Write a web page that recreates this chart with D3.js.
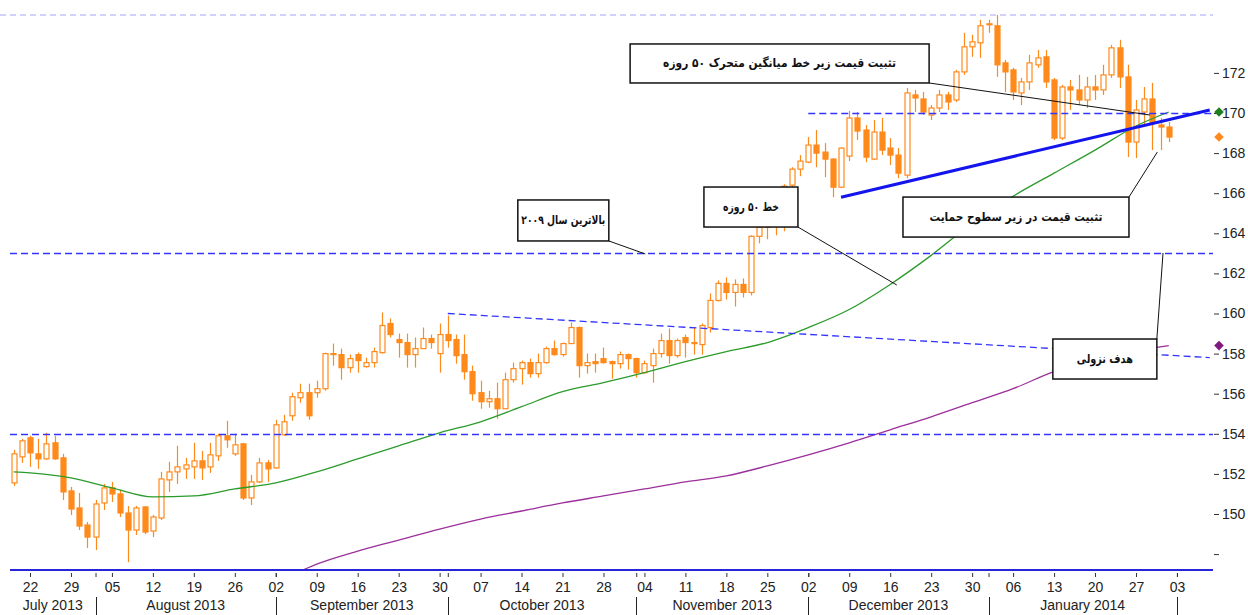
<!DOCTYPE html>
<html>
<head>
<meta charset="utf-8">
<script src="https://cdn.jsdelivr.net/npm/d3@7"></script>
<style>
  body { margin: 0; background: #fff; }
  svg { display: block; }
  .axis text { font-family: "Liberation Sans", Arial, sans-serif; font-size: 14px; fill: #222; }
  .note text { font-family: "DejaVu Sans", sans-serif; font-size: 12px; font-weight: bold; fill: #111; }
</style>
</head>
<body>
<svg id="chart"></svg>
<script>
// trading days: weekdays from 18 Jul 2013 to 31 Jan 2014 (GBP/JPY daily)
const firstDay = '2013-07-18'
const lastDay = '2014-01-31'

const open = [151.55,152.85,153.8,153.0,152.75,153.55,152.8,151.15,150.3,149.45,148.85,150.55,151.3,151.0,150.05,149.2,150.35,149.15,149.8,151.7,
  152.1,152.25,152.35,152.65,152.35,152.9,153.9,153.0,153.5,150.8,151.6,152.55,152.3,153.95,154.9,155.8,156.05,156.05,156.25,157.95,
  157.95,157.3,157.95,157.35,157.55,158.05,159.5,158.7,158.55,157.95,158.25,158.75,158.0,158.95,158.7,157.95,157.1,156.05,155.6,155.75,
  155.25,156.7,157.25,157.55,157.0,157.55,158.25,157.95,158.5,159.3,157.4,157.6,157.75,157.6,157.5,157.95,157.75,157.05,157.4,158.0,
  158.65,157.9,158.8,158.55,158.45,159.3,160.65,161.5,161.05,161.45,161.05,163.85,164.3,164.6,164.4,166.4,167.2,167.55,168.4,168.05,
  167.7,166.3,167.85,169.75,169.15,167.7,169.05,168.25,167.9,166.9,170.9,170.7,169.9,170.25,170.9,170.65,172.05,173.3,173.5,174.4,
  174.35,172.5,172.15,171.0,171.55,172.4,172.8,171.65,168.75,171.3,171.15,170.65,171.3,171.15,171.9,173.25,171.8,168.55,170.05,170.7,
  169.4,169.3]
const high = [153.2,153.75,153.9,153.75,154.05,153.9,153.0,151.35,151.05,149.6,150.7,151.5,151.6,151.2,150.4,150.4,150.4,149.95,152.1,152.6,
  153.4,152.8,153.55,153.15,153.55,154.0,154.65,154.0,153.55,151.95,152.8,152.7,154.7,154.95,156.05,156.5,156.5,156.65,158.05,158.5,
  158.25,157.95,158.05,157.8,158.3,160.05,159.75,159.0,159.0,158.8,159.3,158.95,159.5,159.9,158.95,158.95,157.4,156.65,156.15,156.55,
  157.05,157.55,157.65,157.75,158.0,158.35,158.65,158.55,159.55,159.35,158.0,158.0,158.3,157.65,158.1,158.0,157.8,157.65,158.25,159.0,
  159.25,158.75,158.95,159.3,159.5,161.0,161.65,161.8,161.7,161.75,163.9,164.55,165.0,165.1,166.45,167.3,167.9,168.8,169.15,168.5,
  167.75,168.3,170.1,170.05,169.4,169.65,169.75,168.75,168.25,171.25,171.15,171.05,170.4,171.15,171.05,172.15,174.0,173.9,174.65,174.65,
  174.9,172.65,172.25,171.75,172.9,173.15,173.15,171.75,171.4,171.65,171.9,171.8,171.9,172.4,173.4,173.65,172.4,170.65,171.3,171.5,
  169.75,169.55]
const low = [151.4,152.55,152.35,152.25,152.7,152.7,150.7,149.95,149.2,148.3,148.2,150.2,150.6,149.85,147.6,148.95,149.0,148.85,149.7,151.1,
  151.5,151.75,151.75,151.7,152.05,152.65,153.3,152.9,150.7,150.45,151.55,151.6,152.25,153.9,154.65,155.55,154.7,155.8,156.15,157.4,
  156.7,157.05,157.05,157.3,157.3,158.0,158.8,157.8,157.3,157.3,158.25,158.25,157.05,158.3,157.5,156.7,155.65,155.25,155.3,154.75,
  155.25,156.55,156.45,156.8,156.8,157.5,157.9,157.85,158.5,156.8,157.0,157.05,157.5,156.75,157.25,157.2,156.8,157.0,156.55,157.8,
  157.5,157.8,157.8,157.95,157.95,159.05,160.6,160.7,160.35,160.8,160.9,163.5,163.7,163.9,164.1,165.9,166.85,167.5,167.3,166.8,
  165.8,166.25,167.6,168.65,167.55,167.65,167.9,167.4,166.75,166.75,170.05,169.9,169.65,170.05,170.15,170.55,171.9,172.8,172.75,174.0,
  171.8,171.05,170.65,170.4,171.15,172.25,171.25,168.65,168.65,170.15,170.4,170.25,170.65,170.9,171.75,171.25,167.8,167.75,169.4,168.15,
  168.15,168.55]
const close = [153.0,153.65,153.05,152.75,153.5,152.75,151.1,150.25,149.4,148.85,150.5,151.3,151.0,150.05,149.2,150.3,149.1,149.85,151.75,152.1,
  152.35,152.45,152.65,152.3,152.95,153.9,153.7,153.45,150.8,151.6,152.55,152.25,154.45,154.6,155.85,156.05,154.9,156.25,158.0,158.0,
  157.3,157.75,157.65,157.55,158.1,159.4,158.95,158.55,157.95,158.25,158.75,158.55,158.95,158.65,157.9,157.1,156.0,155.6,155.75,155.25,
  156.7,157.25,157.55,157.0,157.55,158.25,157.95,158.5,159.3,157.4,157.55,157.5,157.55,157.5,157.95,157.75,157.05,157.5,158.0,158.65,
  157.9,158.65,158.55,158.5,159.4,160.65,161.5,161.05,161.45,161.05,163.85,164.3,164.6,164.4,166.35,167.2,167.6,168.4,168.0,167.7,
  166.3,168.25,169.75,169.1,167.8,169.05,168.15,167.9,167.0,171.0,170.75,170.05,170.25,170.9,170.55,172.05,173.3,173.55,174.35,174.45,
  172.4,172.05,171.05,171.55,172.5,172.75,171.55,168.75,171.3,171.15,170.65,171.3,171.15,171.9,173.25,171.8,168.55,170.15,170.7,169.5,
  169.3,168.8]

// moving averages
const ma50Dates = ['2013-07-18','2013-07-22','2013-07-29','2013-08-05','2013-08-12','2013-08-19','2013-08-26','2013-09-02','2013-09-09',
  '2013-09-16','2013-09-23','2013-09-30','2013-10-07','2013-10-14','2013-10-21','2013-10-28','2013-11-04','2013-11-11','2013-11-18',
  '2013-11-25','2013-12-02','2013-12-09','2013-12-16','2013-12-23','2013-12-30','2014-01-06','2014-01-13','2014-01-20','2014-01-27','2014-01-31']
const ma50 = [152.1,152.05,151.8,151.3,150.85,150.9,151.25,151.55,152.1,152.75,153.4,154.05,154.6,155.35,156.1,156.55,157.05,157.6,158.1,
  158.55,159.3,160.2,161.45,162.9,164.5,165.85,167.0,168.15,169.35,170.05]
const ma200Dates = ['2013-09-05','2013-09-09','2013-09-16','2013-09-23','2013-09-30','2013-10-07','2013-10-14','2013-10-21','2013-10-28',
  '2013-11-04','2013-11-11','2013-11-18','2013-11-25','2013-12-02','2013-12-09','2013-12-16','2013-12-23','2013-12-30','2014-01-06',
  '2014-01-13','2014-01-20','2014-01-27','2014-01-31']
const ma200 = [147.15,147.5,148.15,148.7,149.25,149.75,150.15,150.55,150.9,151.25,151.6,151.9,152.4,152.95,153.55,154.2,154.85,155.55,156.25,
  157.1,157.65,158.15,158.4]

// drawn levels and trend lines
const levels = [{ from: firstDay, value: 163 }, { from: firstDay, value: 154 }, { from: '2013-12-02', value: 170 }]
const downTrend = [['2013-10-01', 160.0], ['2014-02-07', 157.8]]
const upTrend = [['2013-12-06', 165.8], ['2014-02-07', 170.15]]

const yTicks = d3.range(148, 173, 2)
const monthStarts = ['2013-08-01','2013-09-02','2013-10-01','2013-11-01','2013-12-02','2014-01-01','2014-02-03']
const monthNames = ['July 2013','August 2013','September 2013','October 2013','November 2013','December 2013','January 2014']

// notes: box centre (day index, price), box size, text width, leader from a box corner to (day index, price)
const notes = [
  { text: 'تثبیت قیمت زیر خط میانگین متحرک ۵۰ روزه', i: 93.5, p: 172.47, w: 299, h: 39, tw: 233, corner: [1, 1], ti: 138.7, tp: 169.9 },
  { text: 'تثبیت قیمت در زیر سطوح حمایت', i: 122.35, p: 164.81, w: 226, h: 40, tw: 173, corner: [1, -1], ti: 139.6, tp: 168.05 },
  { text: 'بالاترین سال ۲۰۰۹', i: 67.1, p: 164.64, w: 91, h: 41, tw: 84, corner: [1, 1], ti: 77.1, tp: 162.97 },
  { text: 'خط ۵۰ روزه', i: 90.0, p: 165.31, w: 94, h: 40, tw: 56, corner: [1, 1], ti: 107.8, tp: 161.42 },
  { text: 'هدف نزولی', i: 133.2, p: 157.73, w: 104, h: 40, tw: 56, corner: [1, -1], ti: 140.3, tp: 163.02 }
]

const width = 1248, height = 615
const plot = { left: 10, right: 1213, top: 15, bottom: 570 }
const orange = '#ff8a1c', blue = '#3434ff'

const parse = d3.timeParse('%Y-%m-%d')
const start = parse(firstDay)
const isWeekday = d => d.getDay() % 6 !== 0
const dayIndex = s => d3.timeDay.range(start, parse(s)).filter(isWeekday).length

const days = d3.timeDay.range(start, d3.timeDay.offset(parse(lastDay), 1)).filter(isWeekday)
const candles = days.map((d, i) => ({ i, o: open[i], h: high[i], l: low[i], c: close[i] }))

const x = d3.scaleLinear().domain([-0.44, 146.4]).range([plot.left, plot.right])
const y = d3.scaleLinear().domain([150, 170]).range([514, 113])

const svg = d3.select('#chart').attr('width', width).attr('height', height)

svg.append('clipPath').attr('id', 'clip')
  .append('rect')
  .attr('x', plot.left).attr('y', plot.top)
  .attr('width', plot.right - plot.left).attr('height', plot.bottom - plot.top)

// frame
svg.append('line')
  .attr('x1', 0).attr('x2', plot.right).attr('y1', plot.top).attr('y2', plot.top)
  .attr('stroke', '#a4a4f4').attr('stroke-dasharray', '6,4')

const g = svg.append('g').attr('clip-path', 'url(#clip)')

// candles
const cg = g.append('g')
cg.selectAll('line')
  .data(candles)
  .enter()
  .append('line')
  .attr('x1', d => Math.round(x(d.i)) + 0.5).attr('x2', d => Math.round(x(d.i)) + 0.5)
  .attr('y1', d => y(d.h)).attr('y2', d => y(d.l))
  .attr('stroke', orange).attr('stroke-width', 1.2)

cg.selectAll('rect')
  .data(candles)
  .enter()
  .append('rect')
  .attr('x', d => Math.round(x(d.i)) - 2)
  .attr('y', d => y(Math.max(d.o, d.c)))
  .attr('width', 5)
  .attr('height', d => Math.max(1, Math.abs(y(d.o) - y(d.c))))
  .attr('fill', d => d.c >= d.o ? '#fff' : orange)
  .attr('stroke', orange).attr('stroke-width', 1.2)

// moving averages
const maLine = d3.line().x(d => x(d[0])).y(d => y(d[1])).curve(d3.curveMonotoneX)

g.append('path')
  .attr('d', maLine(ma50Dates.map((s, k) => [dayIndex(s), ma50[k]])))
  .attr('fill', 'none').attr('stroke', '#2c9b2c').attr('stroke-width', 1.3)

g.append('path')
  .attr('d', maLine(ma200Dates.map((s, k) => [dayIndex(s), ma200[k]])))
  .attr('fill', 'none').attr('stroke', '#9b2f9b').attr('stroke-width', 1.3)

// levels and trend lines
g.selectAll('.level')
  .data(levels)
  .enter()
  .append('line')
  .attr('class', 'level')
  .attr('x1', d => d.from === firstDay ? plot.left : x(dayIndex(d.from)))
  .attr('x2', plot.right)
  .attr('y1', d => Math.round(y(d.value)) + 0.5).attr('y2', d => Math.round(y(d.value)) + 0.5)
  .attr('stroke', blue).attr('stroke-width', 1.4).attr('stroke-dasharray', '7,4')

const trend = d3.line().x(d => x(dayIndex(d[0]))).y(d => y(d[1]))

g.append('path')
  .attr('d', trend(downTrend))
  .attr('fill', 'none').attr('stroke', blue).attr('stroke-width', 1.3).attr('stroke-dasharray', '7,4')

g.append('path')
  .attr('d', trend(upTrend))
  .attr('fill', 'none').attr('stroke', '#1414ee').attr('stroke-width', 3)

// bottom frame line
svg.append('line')
  .attr('x1', plot.left).attr('x2', plot.right).attr('y1', plot.bottom).attr('y2', plot.bottom)
  .attr('stroke', '#2626d8').attr('stroke-width', 2)

// annotations
const ng = svg.append('g').attr('class', 'note')
notes.forEach(n => {
  const cx = x(n.i), cy = y(n.p)
  const fx = cx + n.corner[0] * n.w / 2, fy = cy + n.corner[1] * n.h / 2
  ng.append('line')
    .attr('x1', fx).attr('y1', fy).attr('x2', x(n.ti)).attr('y2', y(n.tp))
    .attr('stroke', '#111').attr('stroke-width', 1)
  ng.append('rect')
    .attr('x', cx - n.w / 2).attr('y', cy - n.h / 2)
    .attr('width', n.w).attr('height', n.h)
    .attr('fill', '#fff').attr('stroke', '#111').attr('stroke-width', 1.5)
  ng.append('text')
    .attr('x', cx).attr('y', cy + 4)
    .attr('text-anchor', 'middle')
    .attr('direction', 'rtl')
    .attr('textLength', n.tw)
    .attr('lengthAdjust', 'spacingAndGlyphs')
    .text(n.text)
})

// right price axis
const yAxis = svg.append('g')
  .attr('class', 'axis')
  .attr('transform', `translate(${plot.right + 1},0)`)
  .call(d3.axisRight(y).tickValues(yTicks).tickSize(5).tickPadding(3).tickFormat(d => d === 148 ? '' : d))
yAxis.select('.domain').remove()
yAxis.selectAll('.tick line').attr('stroke', '#333')

// last value markers
const markers = [
  { v: ma50[ma50.length - 1], color: '#1f7f1f' },
  { v: close[close.length - 1], color: orange },
  { v: ma200[ma200.length - 1], color: '#80197f' }
]
svg.selectAll('.marker')
  .data(markers)
  .enter()
  .append('path')
  .attr('class', 'marker')
  .attr('d', d3.symbol(d3.symbolSquare, 46))
  .attr('transform', d => `translate(${plot.right + 6},${y(d.v)}) rotate(45)`)
  .attr('fill', d => d.color)

// bottom date axis
const fmtDay = d3.timeFormat('%d')
const mondays = d3.timeMonday.range(parse('2013-07-22'), parse('2014-02-04'))
const monIdx = mondays.map(d => dayIndex(d3.timeFormat('%Y-%m-%d')(d)))
const dayLabel = {}
mondays.forEach((d, k) => dayLabel[monIdx[k]] = fmtDay(d))

const xAxis = svg.append('g')
  .attr('class', 'axis')
  .attr('transform', `translate(0,${plot.bottom + 3})`)
  .call(d3.axisBottom(x).tickValues(monIdx).tickSize(4).tickPadding(5).tickFormat(d => dayLabel[d]))
xAxis.select('.domain').remove()
xAxis.selectAll('.tick line').attr('stroke', '#333')

const monthIdx = monthStarts.map(dayIndex)
const minor = svg.append('g')
  .attr('class', 'axis')
  .attr('transform', `translate(0,${plot.bottom + 3})`)
  .call(d3.axisBottom(x).tickValues(monthIdx).tickSize(4).tickFormat(''))
minor.select('.domain').remove()
minor.selectAll('.tick line').attr('stroke', '#333')

svg.selectAll('.msep')
  .data(monthIdx)
  .enter()
  .append('line')
  .attr('class', 'msep')
  .attr('x1', d => Math.round(x(d)) + 0.5).attr('x2', d => Math.round(x(d)) + 0.5)
  .attr('y1', 597).attr('y2', height)
  .attr('stroke', '#222')

const bounds = [plot.left].concat(monthIdx.map(x))
svg.append('g').attr('class', 'axis')
  .selectAll('text')
  .data(monthNames)
  .enter()
  .append('text')
  .attr('x', (d, k) => (bounds[k] + bounds[k + 1]) / 2)
  .attr('y', 610)
  .attr('text-anchor', 'middle')
  .text(d => d)
</script>
</body>
</html>
